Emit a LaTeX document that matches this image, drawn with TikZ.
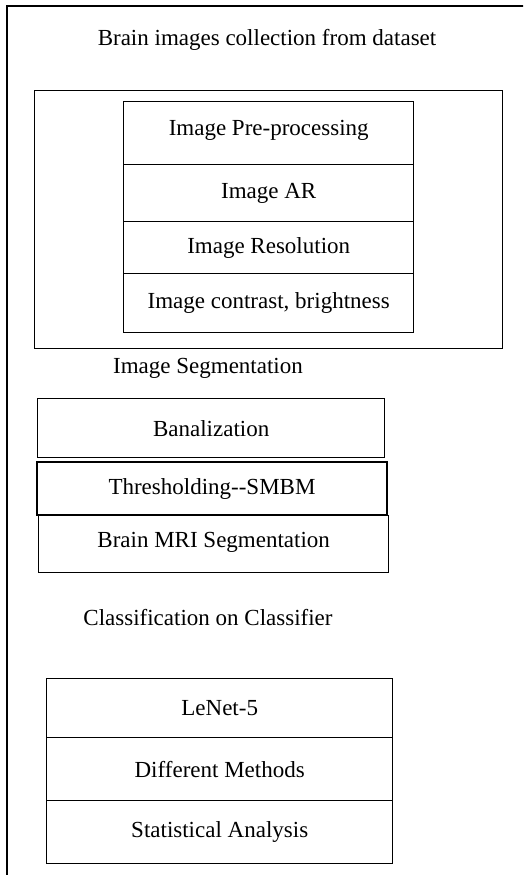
\documentclass[tikz,border=0pt]{standalone}
\usepackage{fontspec}
\setmainfont{Liberation Serif}
\begin{document}
\begin{tikzpicture}[x=1pt,y=-1pt,
  box/.style={draw, line width=1.4pt, inner sep=0pt, anchor=north west, font=\fontsize{23}{27}\selectfont},
  lbl/.style={inner sep=0pt, font=\fontsize{23}{27}\selectfont}]
\clip (0,0) rectangle (523,875);
\fill[white] (0,0) rectangle (523,875);
% outer frame (extends beyond the page at right and bottom)
\draw[line width=1.5pt] (7,900) -- (7,6) -- (540,6);
\node[lbl] (title) at (267,40) {Brain images collection from dataset};
\node[box, minimum width=468pt, minimum height=258pt] (pre) at (34,90) {};
\node[box, minimum width=290pt, minimum height=63pt, text depth=10pt] (c1) at (123,101) {Image Pre-processing};
\node[box, minimum width=290pt, minimum height=57pt] (c2) at (123,164) {Image AR};
\node[box, minimum width=290pt, minimum height=52pt] (c3) at (123,221) {Image Resolution};
\node[box, minimum width=290pt, minimum height=59pt, text depth=6pt] (c4) at (123,273) {Image contrast, brightness};
\node[lbl] (seg) at (208,368) {Image Segmentation};
\node[box, minimum width=347pt, minimum height=59pt] (s1) at (37,398) {Banalization};
\node[box, line width=2pt, minimum width=350pt, minimum height=53pt] (s2) at (36,461) {Thresholding-{}-SMBM};
\node[box, minimum width=350pt, minimum height=57pt, text depth=8pt] (s3) at (38,515) {Brain MRI Segmentation};
\node[lbl] (cls) at (208,618) {Classification on Classifier};
\node[box, minimum width=346pt, minimum height=59pt] (l1) at (46,678) {LeNet-5};
\node[box, minimum width=346pt, minimum height=63pt] (l2) at (46,737) {Different Methods};
\node[box, minimum width=346pt, minimum height=63pt] (l3) at (46,800) {Statistical Analysis};
\end{tikzpicture}
\end{document}
